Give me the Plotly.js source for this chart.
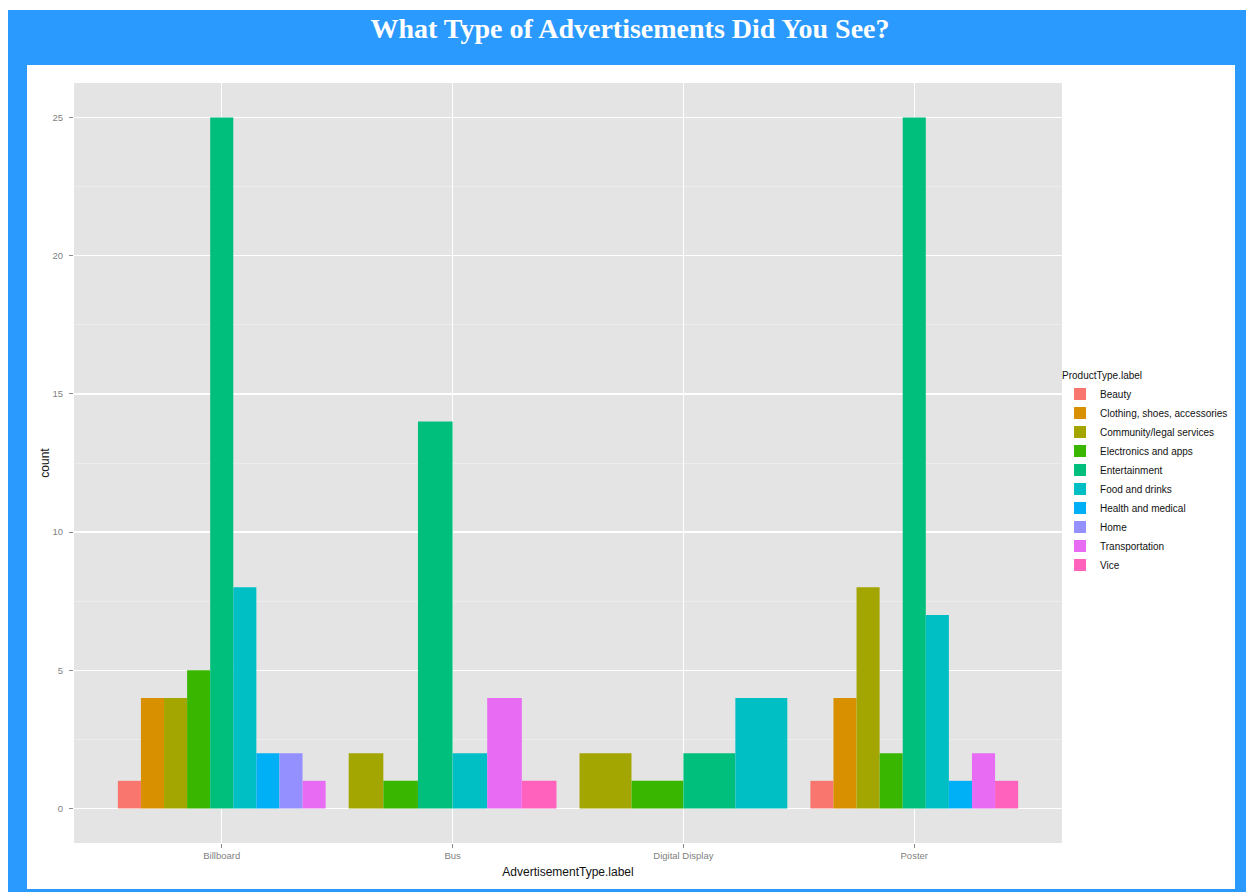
<!DOCTYPE html>
<html>
<head>
<meta charset="utf-8">
<script src="https://cdn.plot.ly/plotly-3.0.1.min.js"></script>
<style>
  html, body { margin: 0; padding: 0; background: #ffffff; width: 1246px; height: 892px; overflow: hidden; }
  #frame { position: absolute; left: 8px; top: 10px; width: 1238px; height: 882px; background: #2a9afe; }
  #panel { position: absolute; left: 27px; top: 65px; width: 1208px; height: 824px; background: #ffffff; }
  #chart { position: absolute; left: 0; top: 0; width: 1246px; height: 892px; }
  #strip { position: absolute; left: 1235px; top: 65px; width: 11px; height: 827px; background: #2a9afe; z-index: 10; }
</style>
</head>
<body>
<div id="frame"></div>
<div id="panel"></div>
<div id="chart"></div>
<div id="strip"></div>
<script>
// Categories (x axis)
const categories = ['Billboard', 'Bus', 'Digital Display', 'Poster'];

// Product types (legend) and colours
const productTypes = ['Beauty', 'Clothing, shoes, accessories', 'Community/legal services',
  'Electronics and apps', 'Entertainment', 'Food and drinks', 'Health and medical',
  'Home', 'Transportation', 'Vice'];
const productColors = ['#F8766D', '#D89000', '#A3A500', '#39B600', '#00BF7D',
  '#00BFC4', '#00B0F6', '#9590FF', '#E76BF3', '#FF62BC'];

// Counts per product type, in category order
const beauty         = [1, 0, 0, 1];
const clothing       = [4, 0, 0, 4];
const community      = [4, 2, 2, 8];
const electronics    = [5, 1, 1, 2];
const entertainment  = [25, 14, 2, 25];
const food           = [8, 2, 4, 7];
const health         = [2, 0, 0, 1];
const home           = [2, 0, 0, 0];
const transportation = [1, 4, 0, 2];
const vice           = [0, 1, 0, 1];

const seriesValues = [beauty, clothing, community, electronics, entertainment,
  food, health, home, transportation, vice];

// ggplot-style dodge: present bars in each category share 0.9 width
const dodgeWidth = 0.9;
const traces = productTypes.map((name, p) => {
  const xs = [], ys = [], ws = [], os = [];
  categories.forEach((cat, c) => {
    const v = seriesValues[p][c];
    if (v > 0) {
      const present = seriesValues.map(s => s[c]).map((val, i) => val > 0 ? i : -1).filter(i => i >= 0);
      const n = present.length;
      const k = present.indexOf(p);
      const w = dodgeWidth / n;
      xs.push(cat); ys.push(v); ws.push(w); os.push(-dodgeWidth / 2 + k * w);
    }
  });
  return {
    type: 'bar', name: name, x: xs, y: ys, width: ws, offset: os,
    marker: { color: productColors[p], line: { width: 0 } },
    hoverinfo: 'x+y+name'
  };
});

const layout = {
  width: 1246, height: 892,
  paper_bgcolor: 'rgba(0,0,0,0)',
  plot_bgcolor: '#e4e4e4',
  margin: { l: 74, r: 184, t: 83, b: 49, pad: 0 },
  barmode: 'overlay',
  font: { family: 'Liberation Sans, Arial, sans-serif', color: '#000' },
  title: {
    text: '<b>What Type of Advertisements Did You See?</b>',
    font: { family: 'Liberation Serif, Times New Roman, serif', size: 28, color: '#ffffff' },
    x: 0.5056, xref: 'container', xanchor: 'center',
    y: 0.9686, yref: 'container', yanchor: 'middle'
  },
  xaxis: {
    type: 'category',
    categoryorder: 'array', categoryarray: categories,
    range: [-0.64, 3.64],
    showgrid: true, gridcolor: '#ffffff', gridwidth: 1.2,
    zeroline: false, showline: false,
    ticks: 'outside', ticklen: 4, tickcolor: '#8a8a8a', tickwidth: 1,
    tickfont: { size: 9.5, color: '#7f7f7f' },
    title: { text: 'AdvertisementType.label', font: { size: 12, color: '#111' }, standoff: 7 }
  },
  yaxis: {
    range: [-1.25, 26.25],
    tickvals: [0, 5, 10, 15, 20, 25],
    showgrid: true, gridcolor: '#ffffff', gridwidth: 1.2,
    minor: { dtick: 2.5, tick0: 0, showgrid: true, gridcolor: '#f2f2f2', gridwidth: 0.6, ticks: '' },
    zeroline: false, showline: false,
    ticks: 'outside', ticklen: 4, tickcolor: '#8a8a8a', tickwidth: 1,
    ticklabelstandoff: 4,
    tickfont: { size: 9.5, color: '#7f7f7f' },
    title: { text: 'count', font: { size: 12, color: '#111' }, standoff: 0 }
  },
  legend: {
    x: 0.998, xanchor: 'left', y: 0.487, yanchor: 'middle',
    bgcolor: 'rgba(0,0,0,0)',
    font: { size: 10, color: '#111' },
    title: { text: 'ProductType.label', font: { size: 10, color: '#111' } },
    traceorder: 'normal',
    itemclick: false
  },
  showlegend: true
};

Plotly.newPlot('chart', traces, layout, { displayModeBar: false, staticPlot: true });
</script>
</body>
</html>
